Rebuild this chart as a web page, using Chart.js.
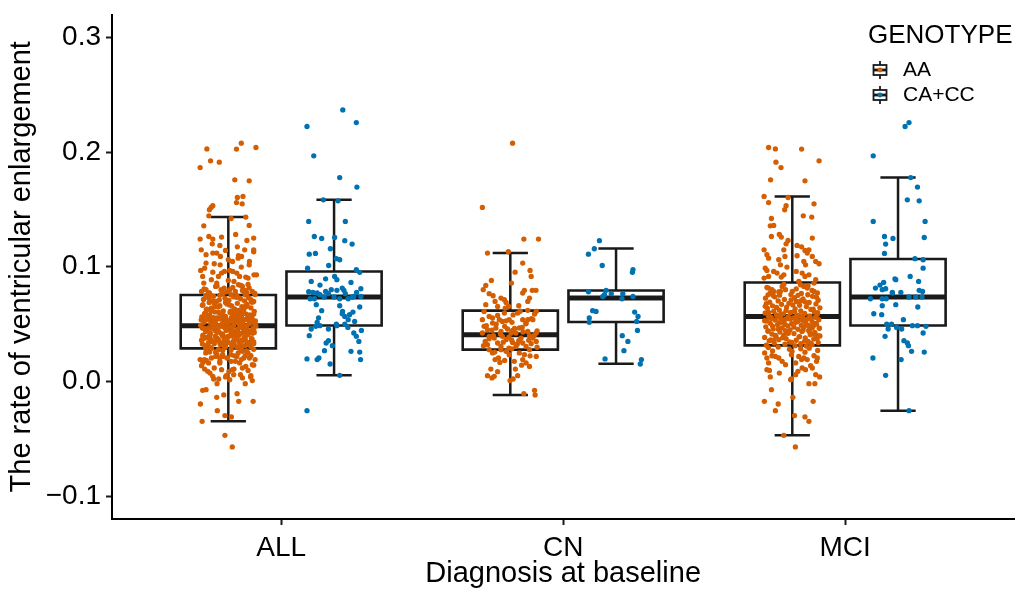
<!DOCTYPE html>
<html><head><meta charset="utf-8">
<script src="https://cdn.jsdelivr.net/npm/chart.js@4.4.1/dist/chart.umd.min.js"></script>
<style>html,body{margin:0;padding:0;background:#fff;}canvas{display:block;}</style>
</head><body>
<canvas id="c" width="1017" height="589"></canvas>
<script>
// ---------------- data ----------------
const categories = ['ALL', 'CN', 'MCI'];
const genotypes = ['AA', 'CA+CC'];
const legendTitle = 'GENOTYPE';
const xTitle = 'Diagnosis at baseline';
const yTitle = 'The rate of ventricular enlargement';
const yTicks = [-0.1, 0, 0.1, 0.2, 0.3];
const yTickLabels = ['\u22120.1', '0.0', '0.1', '0.2', '0.3'];

// box statistics per category [ALL, CN, MCI]
const upperAA = [0.1433, 0.1119, 0.1613];
const q3AA    = [0.0753, 0.0617, 0.0863];
const medAA   = [0.0486, 0.0407, 0.0567];
const q1AA    = [0.0288, 0.0277, 0.0314];
const lowerAA = [-0.0348, -0.0118, -0.0470];
const upperCA = [0.1584, 0.1159, 0.1778];
const q3CA    = [0.0959, 0.0793, 0.1067];
const medCA   = [0.0736, 0.0727, 0.0736];
const q1CA    = [0.0488, 0.0518, 0.0488];
const lowerCA = [0.0053, 0.0155, -0.0255];

// individual values (ALL = CN + MCI)
const cnAA = [
.2078,.1517,.1241,.1241,.1119,.1131,.1032,.0953,.0968,.0916,
.0881,.0858,.0837,.08,.0794,.0771,.0794,.0794,.0765,.0747,
.0727,.0712,.0689,.0727,.0698,.0698,.0669,.061,.066,.0654,
.064,.061,.0588,.0567,.0553,.0596,.0538,.0523,.0538,.0515,
.0538,.0509,.0538,.048,.0451,.0466,.0436,.0457,.0445,.0466,
.0422,.0436,.0399,.0378,.0422,.0393,.0378,.0393,.0364,.0349,
.032,.0335,.0305,.034,.0305,.0335,.0305,.0329,.0349,.0277,
.0248,.0262,.0233,.0248,.0233,.0218,.019,.0204,.0166,.0175,
.019,.0161,.0131,.0108,.005,.003,.0044,.0108,.005,.0007,
-.0107,-.0078,-.0118,.0596,.0654,.0422,.0378,.0538,.0509,.0422,
.0538,.0277,.0277,.058,.047,.036,.062,.029,.04,.044,
.05,.0355,.048,
.0612,.0575,.0548,.0528,.0503,.0487,.0462,.0448,.0431,.0414,
.0402,.0387,.0371,.0358,.0342,.0327,.0312,.0298,.0284,.0256,
.0223,.0183,.0142,.0085,.0021];
const mciAA = [
.204,.2028,.2026,.1924,.1912,.1865,.1758,.1749,.1613,.1604,
.156,.1549,.1532,.1497,.1444,.1433,.1421,.1357,.136,.1264,
.1282,.1259,.125,.1229,.12,.1186,.1148,.1148,.1174,.1142,
.1119,.1148,.1105,.1075,.109,.1096,.109,.1061,.1017,.1046,
.1026,.1046,.1017,.0988,.0968,.0997,.0959,.0945,.0959,.093,
.091,.0945,.0916,.093,.0916,.0901,.0887,.0858,.0872,.0843,
.0814,.08,.0771,.0785,.0828,.08,.0785,.0785,.0828,.0814,
.0785,.0771,.0755,.0752,.0757,.0751,.0756,
.0742,.0738,.0731,.0726,.0719,.0715,.0708,.0702,.0697,.0691,
.0688,.0681,.0676,.0672,.0664,.0659,.0653,.0648,.0642,.0637,
.0633,.0627,.0622,.0616,.0611,.0606,.0602,.0597,.0593,.0589,
.0584,.0579,.0575,.0571,.0568,.0565,.0562,.0559,.0556,.0553,
.0549,.0546,.0542,.0538,.0534,.0531,.0527,.0523,.0519,.0515,
.0511,.0507,.0503,.0499,.0494,.0489,.0485,.0481,.0476,.0472,
.0467,.0463,.0458,.0454,.0449,.0445,.044,.0436,.0431,.0427,
.0422,.0417,.0413,.0408,.0403,.0398,.0394,.0389,.0384,.0379,
.0374,.0369,.0364,.0359,.0354,.0349,.0344,.0339,.0334,.0329,
.0325,.032,.0316,.0312,.0308,
.0248,.0204,.0224,.0218,.0204,.0262,.0233,.0218,.019,.0204,
.019,.0224,.0204,.0175,.0102,.0096,.0073,.0039,.0021,.0059,
.0117,.0102,.0137,.0117,.0059,.0039,.0175,.0146,.0161,.0161,
.0015,.0088,-.002,-.002,-.0072,-.0174,-.0197,-.0255,-.0174,-.0139,
-.0298,-.031,-.0348,-.047,-.0571,.03,.029,.028,.027,.0295,
.0285,.0265,.0255,
.0845,.0833,.0819,.0807,.0793,.0781,.0767,.0749,.0733,.0711,
.0693,.0679,.0667,.0645,.0631,.0619,.0599,.0587,.0573,.0561,
.0551,.0544,.0536,.0529,.0521,.0513,.0505,.0497,.0491,.0483,
.0474,.0465,.0456,.0447,.0438,.0429,.0419,.0411,.0401,.0391,
.0381,.0371,.0361,.0351,.0341,.0331,.0566,.0578,.0612,.0655,
.0702,.0523,.0487,.0443,.0397,.0358,.0601,.0547,.0466,.0533];
const cnCA = [
.1227,.1157,.111,.1011,.0974,.0951,.0782,.0794,.0756,.0741,
.0765,.0765,.0721,.0741,.0617,.061,.0605,.0567,.0553,.0515,
.0523,.0445,.0399,.0349,.0268,.0196,.019,.0152];
const mciCA = [
.2368,.2257,.2223,.1967,.1778,.1695,.1584,.1575,.1395,.1395,
.1264,.1247,.1198,.1255,.1116,.107,.1061,.0988,.0895,.0916,
.0872,.0814,.084,.0863,.08,.0776,.0776,.0794,.0785,.0887,
.0808,.0771,.0721,.0721,.0721,.0736,.0736,.0736,.0669,.066,
.059,.0582,.0538,.05,.05,.0457,.0471,.0457,.0486,.0486,
.048,.0422,.0393,.0355,.0335,.0312,.0262,.0256,.0204,.019,
.0053,-.0255,.0649];

// horizontal jitter of each point (fraction of the jitter half-width), own panel and ALL panel
const jitCnAA = [
.08,-.99,.48,1,-.81,-.07,.44,.17,.7,.74,
-.67,.04,-.87,-.96,.5,.44,.78,.91,-.75,-.61,
-.33,-.21,-.15,.68,.62,-.54,-.87,-.93,.3,-.06,
-.18,.92,.86,-.75,-.63,.26,-.39,-.28,-.04,.06,
.44,.56,.8,-.93,-.81,-.51,-.33,-.1,.08,.32,
.2,.62,.68,.8,.92,-.75,-.57,-.28,-.15,-.89,
-.81,-.45,-.33,.08,.2,.44,.56,.74,.92,-.75,
-.63,-.15,-.04,.32,.5,.92,-.54,-.42,-.37,.14,
.44,.56,.68,-.69,-.81,-.65,-.57,.18,.26,-.01,
.48,.86,.88,-.21,-.45,.03,.38,.62,-.63,-.99,
-.99,.68,-.33,.1,.42,.05,.62,-.05,-.6,.95,
-.5,.3,-.2,
.35,-.45,.75,-.15,.55,-.85,.15,-.65,.45,-.35,
.85,-.05,-.75,.65,-.25,.25,-.95,.95,.05,-.55,
.7,-.2,.4,-.45,.1];
const jitAllCnAA = [
.46,-.61,-1,-.55,-.41,.9,-.79,-.55,-.98,-.91,
0,-.41,.45,-.79,.6,.66,-.25,.56,-.2,.3,
-.7,.8,-.1,.4,-.5,.9,-.9,.2,-.3,.6,
-.6,.1,-.8,.7,-.4,.5,-.2,.3,-.9,.8,
-.6,0,.4,-.3,.6,-.7,.2,-.5,.9,-.1,
.5,-.8,.1,-.4,.7,-.2,.3,-.9,.6,-.6,
.2,-.3,.8,0,-.7,.4,-.1,.9,-.5,.1,
-.8,.5,-.4,.7,-.2,.3,-1,.75,-.9,.1,
.46,-.3,.62,-.84,-.07,.5,-.55,.2,.8,.85,
.31,-.91,-.16,.15,-.45,.35,-.65,.55,-.15,.25,
-.85,.45,-.35,-.25,.65,-.95,.35,-.6,.05,-.45,
.95,-.15,.15,
-.62,.28,-.08,.74,-.46,.52,-.86,.06,.66,-.24,
.38,-.72,.84,-.34,.16,-.92,.58,-.12,.44,-.66,
.22,-.78,.9,.02,-.52];
const jitMciAA = [
-.84,-.6,.33,.95,-.58,-.4,-.77,.45,-1,-.15,
-.84,.77,-.22,-.27,.39,.69,-.74,-.78,-.66,-.74,
-.46,-.39,.71,-.15,-.22,.17,-1,-.3,.33,.45,
.53,.59,-.9,-.84,-.26,.17,.71,-.48,-.42,.83,
.95,.41,.47,-.96,-.9,-.19,-.66,-.54,.14,-.3,
-.39,.35,.45,.59,-.84,-1,.83,.77,.23,.29,
-.84,-.72,-.78,-.66,-.36,-.24,-.42,0,.41,.53,
.77,.89,-.86,-.45,-.05,.2,.55,
.72,-.62,.08,-.95,.38,-.28,.92,-.5,.15,-.8,
.6,-.12,.84,-.38,.26,-.7,.5,-.2,.98,-.88,
.1,.66,-.46,.3,-.66,.78,-.06,-.96,.44,-.32,
.88,-.56,.18,.62,-.84,-.14,.36,.82,-.42,.04,
-.74,.54,-.24,.94,-.6,.22,-.9,.7,-.34,.12,
.48,-.78,-.02,.86,-.52,.32,-.16,.74,-.94,.4,
-.36,.96,-.68,.2,-.08,.58,-.86,.34,-.44,.8,
-.18,.06,-.72,.64,-.3,.9,-.58,.24,-.98,.46,
-.22,.76,-.48,.14,-.82,.56,-.1,.92,-.64,.3,
-.26,.7,-.92,.1,.5,
-.98,-.9,-.72,-.6,-.48,-.01,-.03,.23,.33,.41,
.53,.77,.89,.86,-.9,-.81,-.46,-.78,-.03,.12,
.35,.47,.65,.71,.83,.97,-.36,-.24,.12,-.84,
-.06,.2,.59,.8,-.74,-.99,-.5,-.6,.74,.02,
.08,.45,.59,-.3,.11,-.5,.6,-.1,.9,-.85,
.3,-.7,.45,
-.3,.56,-.9,.14,.7,-.48,.32,-.68,.86,-.04,
.46,-.92,.02,-.56,.74,-.22,.9,-.4,.28,-.76,
.64,-.08,.42,-.98,.18,-.44,.84,-.26,.52,-.7,
.06,.96,-.5,.38,-.86,.62,-.14,.78,-.6,.26,
-.34,.88,-.76,.44,-.02,.66,-.52,.16,.08,-.96,
.3,-.4,.58,-.24,.98,-.66,-.84,.12,.7,.36];
const jitAllMciAA = [
.98,-.76,.29,-.63,-.32,-1,.23,.74,.52,.32,
.29,.49,-.55,-.67,-.69,.62,.1,-.87,.74,-.69,
.26,-.24,.9,.66,-.57,-.3,.58,-.96,.32,-.1,
-.55,.9,-.79,.35,.47,.36,-.28,0,-.29,.75,
-.5,.15,.74,-.84,.05,.46,.16,-.24,-.14,.91,
.62,.3,.4,1,-.35,.7,-.6,-.87,.2,.36,
.74,-.25,-.67,.56,-.45,.05,.85,-.95,.5,-.15,
.25,-.7,.6,-.3,.95,-.8,.1,
-.52,.18,.72,-.12,.44,-.88,.02,.58,-.42,.86,
-.68,.32,-.05,.66,-.92,.12,.48,-.36,.8,-.6,
.22,-.78,.54,-.18,.92,-.48,.06,.36,-.84,.62,
-.26,.76,-.66,.28,-.1,.46,-.94,.14,-.54,.84,
.38,-.3,.68,-.74,.08,-.44,.96,-.16,.52,-.86,
.24,-.62,.74,-.22,.42,-.98,.18,.64,-.4,.02,
.88,-.56,.34,-.72,.56,-.08,.78,-.34,.1,.92,
-.64,.4,-.2,.7,-.9,.26,-.46,.6,-.02,-.8,
.82,-.38,.3,-.6,.5,-.14,.9,-.7,.2,-.5,
.66,-.28,.44,-.82,.12,
.35,-.6,.8,-.2,.55,-.75,.1,-.45,.95,-.05,
-.85,.6,-.3,.25,-.24,.7,-.65,.79,-.34,.43,
-.5,.15,-.95,.5,.19,-.1,-.3,.85,-.7,.4,
.05,-.73,-.4,.6,-.79,.37,-.99,-.39,.88,-.41,
-.12,.11,-.93,-.12,.14,.3,-.6,.9,-.2,.45,
-.8,.65,-.45,
.7,-.4,.16,-.86,.5,-.06,.94,-.6,.28,-.32,
.82,-.5,.04,.58,-.76,.36,-.2,.9,-.7,.12,
-.44,.64,-.96,.26,-.1,.78,-.56,.4,-.28,.98,
-.16,.5,-.8,.14,.62,-.38,.86,-.64,.32,-.04,
.56,-.9,.2,-.48,.74,-.22,.44,-.82,.08,.66,
-.58,.88,-.14,.3,-.68,.46,-.34,.72,-.92,.16];
const jitCnCA = [
-.59,-.77,-.98,-.49,.6,.58,-.98,-.35,-.41,-.47,
-.17,.24,.21,.6,-.83,-.71,.66,.78,-.95,-.95,
.73,.76,.22,.42,.28,-.39,.9,.86];
const jitAllCnCA = [
.38,-.13,-.88,-.19,.79,.91,-.9,.1,-.5,.7,
-.2,.4,-.7,.95,-.44,.3,.67,.38,-.55,-.6,
.73,.97,-.88,.88,-.34,-.96,.94,-.14];
const jitMciCA = [
.55,.39,.25,-.88,.45,.69,.33,.75,-.88,.96,
-.48,-.18,-.44,.93,-.48,.6,.89,.89,-.11,.43,
.73,-.8,-.64,-.51,-.56,-.2,.1,.75,.87,-.08,
-.44,-.2,-.98,-.56,-.42,.39,.63,.85,-.08,-.56,
-.86,-.58,.19,-.4,-.23,-.35,-.05,.13,.51,.69,
.99,.89,-.46,.21,.33,.37,.48,.93,-.89,.11,
-.44,.39,.7];
const jitAllMciCA = [
.31,.79,-.96,-.72,.2,.81,-.38,.14,-.9,.4,
-.7,-.44,.64,.02,-.66,.08,.2,-.94,-.3,.02,
-.81,.29,-.5,.6,-.1,.8,-.75,.35,-.3,.1,
.95,-.6,.5,-.85,.2,-.35,.65,0,-.63,.2,
.29,.55,.5,.08,.38,-.81,.49,-.2,-.5,.1,
-.65,.7,.79,-.2,-.28,-.06,.6,.91,-.54,-.6,
.2,-.96,.91];

// ---------------- styling / geometry ----------------
const FONT = '"Liberation Sans", Arial, Helvetica, sans-serif';
const COLORS = ['#D55E00', '#0072B2'];
const INK = '#1a1a1a';
const DODGE = 0.1875, BOX_W = 0.3375, CAP_W = 0.125, JIT = 0.1;

Chart.defaults.font.family = FONT;
Chart.defaults.color = '#000';

const pointSets = [
  [{v: cnAA.concat(mciAA), j: jitAllCnAA.concat(jitAllMciAA)}, {v: cnCA.concat(mciCA), j: jitAllCnCA.concat(jitAllMciCA)}],
  [{v: cnAA, j: jitCnAA}, {v: cnCA, j: jitCnCA}],
  [{v: mciAA, j: jitMciAA}, {v: mciCA, j: jitMciCA}]
];
const stats = [
  {hi: upperAA, q3: q3AA, md: medAA, q1: q1AA, lo: lowerAA},
  {hi: upperCA, q3: q3CA, md: medCA, q1: q1CA, lo: lowerCA}
];

const datasets = [];
const lineBase = {type: 'line', showLine: true, pointRadius: 0, pointHoverRadius: 0, fill: false,
  tension: 0, spanGaps: false, borderColor: INK, order: 5};
for (let ci = 0; ci < categories.length; ci++) {
  for (let g = 0; g < genotypes.length; g++) {
    const c = ci + 1 + (g === 0 ? -DODGE : DODGE);
    const s = stats[g];
    const l = c - BOX_W / 2, r = c + BOX_W / 2, cl = c - CAP_W / 2, cr = c + CAP_W / 2;
    const ps = pointSets[ci][g];
    datasets.push({
      type: 'scatter', label: genotypes[g], order: 0,
      data: ps.v.map((y, i) => ({x: c + (ps.j[i] || 0) * JIT, y: y})),
      pointRadius: 2.65, pointHoverRadius: 2.65, pointBorderWidth: 0,
      pointBackgroundColor: COLORS[g], backgroundColor: COLORS[g], borderColor: COLORS[g]
    });
    datasets.push(Object.assign({}, lineBase, {
      data: [{x: l, y: s.q1[ci]}, {x: r, y: s.q1[ci]}, {x: r, y: s.q3[ci]}, {x: l, y: s.q3[ci]}, {x: l, y: s.q1[ci]}],
      borderWidth: 2.6, borderJoinStyle: 'miter', borderCapStyle: 'square'
    }));
    datasets.push(Object.assign({}, lineBase, {
      data: [{x: l, y: s.md[ci]}, {x: r, y: s.md[ci]}],
      borderWidth: 5, borderCapStyle: 'butt'
    }));
    datasets.push(Object.assign({}, lineBase, {
      data: [{x: c, y: s.q3[ci]}, {x: c, y: s.hi[ci]}, {x: c, y: null},
             {x: cl, y: s.hi[ci]}, {x: cr, y: s.hi[ci]}, {x: c, y: null},
             {x: c, y: s.q1[ci]}, {x: c, y: s.lo[ci]}, {x: c, y: null},
             {x: cl, y: s.lo[ci]}, {x: cr, y: s.lo[ci]}],
      borderWidth: 2.5, borderCapStyle: 'butt'
    }));
  }
}

const ggLegend = {
  id: 'ggLegend',
  afterDraw(chart) {
    const ctx = chart.ctx;
    ctx.save();
    ctx.fillStyle = '#fff';
    ctx.fillRect(860, 13, 157, 101);
    ctx.fillStyle = '#000';
    ctx.textAlign = 'left';
    ctx.textBaseline = 'middle';
    ctx.font = '26px ' + FONT;
    ctx.fillText(legendTitle, 868, 36);
    genotypes.forEach((g, i) => {
      const x = 880, y = 70 + i * 25;
      ctx.strokeStyle = INK;
      ctx.lineWidth = 1.8;
      ctx.beginPath();
      ctx.moveTo(x, y - 9); ctx.lineTo(x, y - 5);
      ctx.moveTo(x, y + 5); ctx.lineTo(x, y + 9);
      ctx.stroke();
      ctx.strokeRect(x - 6.5, y - 5, 13, 10);
      ctx.lineWidth = 2.8;
      ctx.beginPath(); ctx.moveTo(x - 6.5, y); ctx.lineTo(x + 6.5, y); ctx.stroke();
      ctx.fillStyle = COLORS[i];
      ctx.beginPath(); ctx.arc(x, y, 2.4, 0, Math.PI * 2); ctx.fill();
      ctx.fillStyle = '#000';
      ctx.font = '21px ' + FONT;
      ctx.fillText(g, 903, y);
    });
    ctx.restore();
  }
};

new Chart(document.getElementById('c'), {
  type: 'scatter',
  data: {datasets},
  options: {
    responsive: false, animation: false, events: [],
    layout: {padding: {top: 14.5, right: 0, bottom: 0, left: 0}},
    plugins: {legend: {display: false}, tooltip: {enabled: false}},
    scales: {
      x: {
        type: 'linear', min: 0.4, max: 3.6,
        afterBuildTicks: s => { s.ticks = [1, 2, 3].map(v => ({value: v})); },
        afterFit: s => { s.height = 70; s.paddingLeft = 0; s.paddingRight = 0; },
        ticks: {callback: v => categories[Math.round(v) - 1], font: {size: 28}, color: '#000',
                padding: 6, autoSkip: false, maxRotation: 0},
        grid: {display: true, drawOnChartArea: false, drawTicks: true, tickLength: 6, tickWidth: 2, tickColor: INK},
        border: {display: true, color: '#000', width: 2},
        title: {display: true, text: xTitle, font: {size: 29}, color: '#000', padding: {top: 0, bottom: -2}}
      },
      y: {
        type: 'linear', min: -0.12, max: 0.32,
        afterBuildTicks: s => { s.ticks = yTicks.map(v => ({value: v})); },
        afterFit: s => { s.width = 112; s.paddingTop = 0; s.paddingBottom = 0; },
        ticks: {callback: v => yTickLabels[yTicks.indexOf(v)], font: {size: 28}, color: '#000', padding: 5},
        grid: {display: true, drawOnChartArea: false, drawTicks: true, tickLength: 6, tickWidth: 2, tickColor: INK},
        border: {display: true, color: '#000', width: 2},
        title: {display: true, text: yTitle, font: {size: 29}, color: '#000', padding: {top: 5, bottom: 0}}
      }
    }
  },
  plugins: [ggLegend]
});
</script>
</body></html>
